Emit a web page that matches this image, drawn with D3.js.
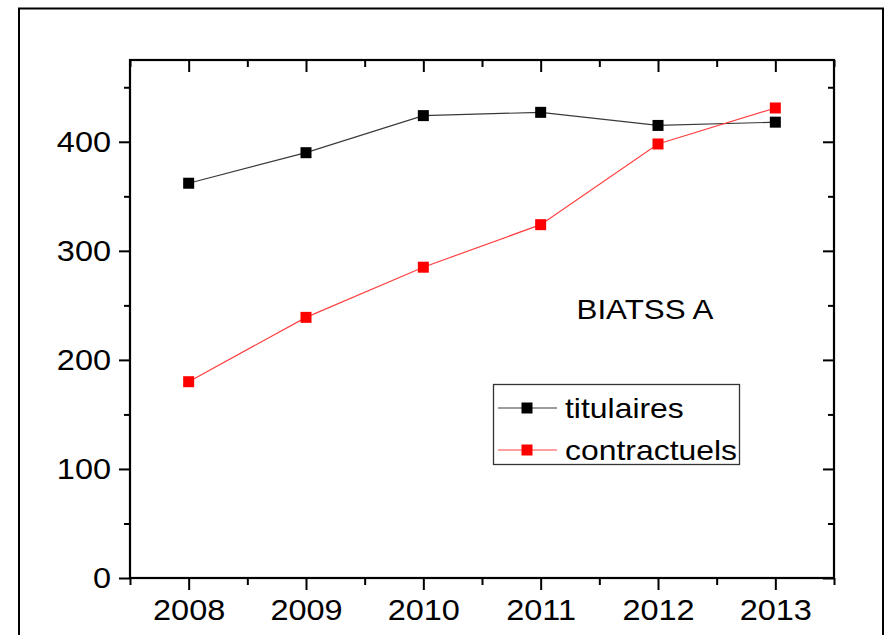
<!DOCTYPE html>
<html>
<head>
<meta charset="utf-8">
<script src="https://cdn.jsdelivr.net/npm/d3@7"></script>
<style>
  html, body { margin: 0; padding: 0; background: #fff; }
  svg { display: block; }
  text { font-family: "Liberation Sans", Arial, sans-serif; fill: #000; }
</style>
</head>
<body>
<svg id="chart" width="885" height="635"></svg>
<script>
// Staff counts per year
const years = [2008, 2009, 2010, 2011, 2012, 2013];
const titulaires = [362, 390, 424, 427, 415, 418];
const contractuels = [180, 239, 285, 324, 398, 431];
const yTicks = [0, 100, 200, 300, 400];
const seriesNames = ["titulaires", "contractuels"];
const seriesColors = ["#000000", "#ff0000"];
const lineColors = ["#3a3a3a", "#ff4040"];
const chartLabel = "BIATSS A";

const svg = d3.select("#chart");
const plotLeft = 130, plotRight = 834, plotTop = 60, plotBottom = 578;

// outer frame
svg.append("rect")
  .attr("x", 19).attr("y", 8.5)
  .attr("width", 864).attr("height", 660)
  .attr("fill", "none").attr("stroke", "#000").attr("stroke-width", 2);

const x = d3.scaleLinear().domain([2007.5, 2013.5]).range([plotLeft, plotRight]);
const y = d3.scaleLinear().domain([0, 475]).range([plotBottom, plotTop]);

const xMinor = d3.range(2007.5, 2013.6, 1);
const yMinor = d3.range(50, 475, 100);

function styleAxis(g) {
  g.select(".domain").remove();
  g.selectAll("line").attr("stroke", "#000").attr("stroke-width", 2);
  g.selectAll("text").style("font-size", "29.5px").attr("fill", "#000");
}

// bottom axis: outward ticks with labels
const gB = svg.append("g").attr("transform", `translate(0,${plotBottom})`)
  .call(d3.axisBottom(x).tickValues(years).tickFormat(d3.format("d")).tickSize(12).tickPadding(9));
styleAxis(gB);
gB.selectAll("text")
  .style("transform-box", "fill-box").style("transform-origin", "center")
  .style("transform", "scaleX(1.1)");
svg.append("g").attr("transform", `translate(0,${plotBottom})`)
  .call(d3.axisBottom(x).tickValues(xMinor).tickFormat("").tickSize(7))
  .call(styleAxis);

// top axis: inward ticks
svg.append("g").attr("transform", `translate(0,${plotTop})`)
  .call(d3.axisBottom(x).tickValues(years).tickFormat("").tickSize(12))
  .call(styleAxis);
svg.append("g").attr("transform", `translate(0,${plotTop})`)
  .call(d3.axisBottom(x).tickValues(xMinor).tickFormat("").tickSize(7))
  .call(styleAxis);

// left axis: outward ticks with labels
const gL = svg.append("g").attr("transform", `translate(${plotLeft},0)`)
  .call(d3.axisLeft(y).tickValues(yTicks).tickSize(11).tickPadding(8));
styleAxis(gL);
gL.selectAll("text")
  .style("transform-box", "fill-box").style("transform-origin", "right center")
  .style("transform", "scaleX(1.1)");
svg.append("g").attr("transform", `translate(${plotLeft},0)`)
  .call(d3.axisLeft(y).tickValues(yMinor).tickFormat("").tickSize(6))
  .call(styleAxis);

// right axis: inward ticks
svg.append("g").attr("transform", `translate(${plotRight},0)`)
  .call(d3.axisLeft(y).tickValues(yTicks).tickFormat("").tickSize(11))
  .call(styleAxis);
svg.append("g").attr("transform", `translate(${plotRight},0)`)
  .call(d3.axisLeft(y).tickValues(yMinor).tickFormat("").tickSize(6))
  .call(styleAxis);

// plot frame
svg.append("rect")
  .attr("x", plotLeft).attr("y", plotTop)
  .attr("width", plotRight - plotLeft).attr("height", plotBottom - plotTop)
  .attr("fill", "none").attr("stroke", "#000").attr("stroke-width", 2.2);

// series
const allSeries = [titulaires, contractuels];
const line = d3.line().x((d, i) => x(years[i])).y(d => y(d));
const ms = 11;
allSeries.forEach((vals, k) => {
  svg.append("path").datum(vals)
    .attr("d", line)
    .attr("fill", "none")
    .attr("stroke", lineColors[k])
    .attr("stroke-width", 1.2);
  svg.selectAll(null).data(vals).enter().append("rect")
    .attr("x", (d, i) => x(years[i]) - ms / 2)
    .attr("y", d => y(d) - ms / 2)
    .attr("width", ms).attr("height", ms)
    .attr("fill", seriesColors[k]);
});

// annotation
svg.append("text")
  .attr("x", 645).attr("y", 319.5)
  .attr("text-anchor", "middle")
  .style("font-size", "27px")
  .style("transform-box", "fill-box").style("transform-origin", "center")
  .style("transform", "scaleX(1.16)")
  .text(chartLabel);

// legend
const lg = svg.append("g");
lg.append("rect")
  .attr("x", 493.5).attr("y", 384.5)
  .attr("width", 246).attr("height", 80)
  .attr("fill", "#fff").attr("stroke", "#333").attr("stroke-width", 1.3);
const rowY = [408, 450];
seriesNames.forEach((name, k) => {
  lg.append("line")
    .attr("x1", 498).attr("x2", 557)
    .attr("y1", rowY[k]).attr("y2", rowY[k])
    .attr("stroke", lineColors[k]).attr("stroke-width", 1.2);
  lg.append("rect")
    .attr("x", 527 - ms / 2).attr("y", rowY[k] - ms / 2)
    .attr("width", ms).attr("height", ms)
    .attr("fill", seriesColors[k]);
  lg.append("text")
    .attr("x", 565).attr("y", rowY[k] + 10)
    .style("font-size", "28.5px")
    .style("transform-box", "fill-box").style("transform-origin", "left center")
    .style("transform", "scaleX(1.12)")
    .text(name);
});
</script>
</body>
</html>
